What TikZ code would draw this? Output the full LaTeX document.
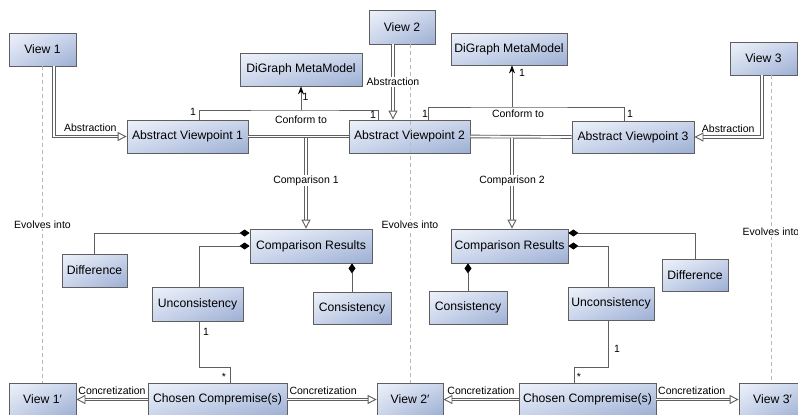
\documentclass[tikz,border=0pt]{standalone}
\usepackage{fontspec}
\setmainfont{Liberation Sans}
\usetikzlibrary{arrows.meta, shadings, shadows}

\definecolor{boxlight}{RGB}{238,242,250}
\definecolor{boxmid}{RGB}{202,213,235}
\definecolor{boxdark}{RGB}{156,174,211}
\definecolor{linegray}{RGB}{95,95,95}

\begin{document}
\begin{tikzpicture}[x=1pt, y=-1pt, inner sep=0pt]
    \tikzset{
        box/.style={draw=linegray, line width=.8pt, upper left=boxlight, upper right=boxmid,
            lower left=boxmid, lower right=boxdark, minimum height=33pt,
            font=\fontsize{12.2}{14}\selectfont,
            drop shadow={opacity=.2, shadow xshift=1pt, shadow yshift=-1pt}},
        lbl/.style={font=\fontsize{10.5}{12}\selectfont, inner sep=1pt},
        dbl/.style={draw=linegray, line width=.9pt, double=white, double distance=1.8pt},
        abstraction/.style={dbl, -{Triangle[open, length=9pt, width=9pt]}},
        conform/.style={draw=linegray, line width=.8pt},
        comp/.style={conform, {Diamond[length=10pt, width=7pt, black]}-},
        evolve/.style={draw=gray!55, line width=.8pt, dash pattern=on 4pt off 3pt}
    }

    \useasboundingbox (0,0) rectangle (798,415);
    \clip (0,0) rectangle (798,415);

    % VIEWS
    \node[box, minimum width=67pt] (v1) at (42.5,49.5) {View 1};
    \node[box, minimum width=66pt, minimum height=34pt] (v2) at (402,27) {View 2};
    \node[box, minimum width=67pt] (v3) at (763.5,58.5) {View 3};

    % METAMODELS
    \node[box, minimum width=122pt] (dgl) at (301,69.5) {DiGraph MetaModel};
    \node[box, minimum width=116pt, minimum height=32pt] (dgr) at (509,49) {DiGraph MetaModel};

    % ABSTRACT VIEWPOINTS
    \node[box, minimum width=121pt] (av1) at (187.5,136.5) {Abstract Viewpoint 1};
    \node[box, minimum width=121pt] (av2) at (409.5,136.5) {Abstract Viewpoint 2};
    \node[box, minimum width=122pt, minimum height=32pt] (av3) at (633,137) {Abstract Viewpoint 3};

    % COMPARISON RESULTS
    \node[box, minimum width=122pt, minimum height=34pt] (crl) at (311,246) {Comparison Results};
    \node[box, minimum width=117pt, minimum height=34pt] (crr) at (509.5,246) {Comparison Results};

    \node[box, minimum width=65pt] (difl) at (94.5,270.5) {Difference};
    \node[box, minimum width=91pt, minimum height=34pt] (unl) at (197.5,304) {Unconsistency};
    \node[box, minimum width=78pt, minimum height=32pt] (consl) at (352,308) {Consistency};

    \node[box, minimum width=78pt] (consr) at (468,307.5) {Consistency};
    \node[box, minimum width=86pt] (unr) at (611,303.5) {Unconsistency};
    \node[box, minimum width=66pt, minimum height=32pt] (difr) at (695,275) {Difference};

    % NEW VIEWS
    \node[box, minimum width=67pt] (v1p) at (42.5,399.5) {View 1′};
    \node[box, minimum width=139pt] (chl) at (217.5,399.5) {Chosen Compremise(s)};
    \node[box, minimum width=66pt] (v2p) at (410,399.5) {View 2′};
    \node[box, minimum width=137pt] (chr) at (587.5,399.5) {Chosen Compremise(s)};
    \node[box, minimum width=67pt] (v3p) at (772.5,399.5) {View 3′};

    % EVOLUTION
    \draw[evolve] (v1.south) -- (v1p.north) node[lbl, fill=white, midway] {Evolves into};
    \draw[evolve] ([xshift=8pt]v2.south) -- (v2p.north) node[lbl, fill=white, pos=.534] {Evolves into};
    \draw[evolve] ([xshift=7.5pt]v3.south) -- ([xshift=-1.5pt]v3p.north) node[lbl, fill=white, pos=.51] {Evolves into};

    % ABSTRACTION
    \draw[abstraction] ([xshift=11.5pt]v1.south) |- (av1.west) node[lbl, pos=.75, above=3pt] {Abstraction};
    \draw[abstraction] ([xshift=-9pt]v2.south) -- ([xshift=-9pt]v2.south |- av2.north) node[lbl, fill=white, midway] {Abstraction};
    \draw[abstraction] ([xshift=-1.5pt]v3.south) |- (av3.east) node[lbl, pos=.75, above=3pt] {Abstraction};

    % CONFORM TO
    \coordinate (cfl) at (301,110);
    \coordinate (cfr) at (512,107);
    \draw[conform] ([xshift=11.5pt]av1.north) |- (cfl) -| ([xshift=-31.5pt]av2.north);
    \draw[conform, -{Stealth[length=8pt, width=6pt, black]}] (cfl) -- (dgl.south);
    \draw[conform] ([xshift=18.5pt]av2.north) |- (cfr) -| ([xshift=-9pt]av3.north);
    \draw[conform, -{Stealth[length=8pt, width=6pt, black]}] (cfr) -- (cfr |- dgr.south);

    \node[lbl] (cfl-lab) at (301,120) {Conform to};
    \node[lbl] (cfr-lab) at (518,114) {Conform to};
    \node[lbl] (m1) at (193,112) {1};
    \node[lbl] (m2) at (373,115) {1};
    \node[lbl] (m3) at (305.5,97) {1};
    \node[lbl] (m4) at (425,114) {1};
    \node[lbl] (m5) at (630,114) {1};
    \node[lbl] (m6) at (522,73) {1};

    % COMPARISON
    \draw[dbl] (av1.east) -- (av2.west);
    \draw[dbl] (av2.east) -- (av3.west);
    \draw[abstraction] ([xshift=-5pt, yshift=-1.4pt]crl.north |- av1.east) -- ([xshift=-5pt]crl.north)
        node[lbl, fill=white, pos=.47] {Comparison 1};
    \draw[abstraction] ([xshift=2.5pt, yshift=-1.4pt]crr.north |- av2.east) -- ([xshift=2.5pt]crr.north)
        node[lbl, fill=white, pos=.47] {Comparison 2};

    % COMPOSITION
    \draw[comp] ([yshift=13pt]crl.west) -| (difl.north);
    \draw[comp] (crl.west) -| ([xshift=1.5pt]unl.north);
    \draw[comp] (consl.north |- crl.south) -- (consl.north);
    \draw[comp] ([yshift=13pt]crr.east) -| (difr.north);
    \draw[comp] (crr.east) -| ([xshift=-3pt]unr.north);
    \draw[comp] (consr.north |- crr.south) -- (consr.north);

    % CHOSEN COMPROMISES
    \draw[conform] ([xshift=1.5pt]unl.south) -- ++(0,46) -| ([xshift=12.5pt]chl.north);
    \draw[conform] ([xshift=-3pt]unr.south) -- ++(0,47) -| ([xshift=-13.5pt]chr.north);
    \node[lbl] (m7) at (206,332) {1};
    \node[lbl] (m8) at (224,377) {*};
    \node[lbl] (m9) at (617,349) {1};
    \node[lbl] (m10) at (579,377) {*};

    % CONCRETIZATION
    \draw[abstraction] (chl.west) -- (v1p.east) node[lbl, midway, above=3pt] {Concretization};
    \draw[abstraction] (chl.east) -- (v2p.west) node[lbl, pos=.4, above=3pt] {Concretization};
    \draw[abstraction] (chr.west) -- (v2p.east) node[lbl, midway, above=3pt] {Concretization};
    \draw[abstraction] (chr.east) -- (v3p.west) node[lbl, pos=.43, above=3pt] {Concretization};

\end{tikzpicture}
\end{document}
